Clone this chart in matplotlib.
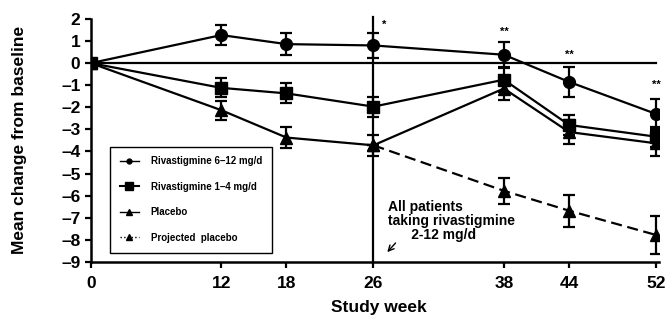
import numpy as np
import matplotlib.pyplot as plt
from matplotlib.lines import Line2D

plt.rcParams['font.family'] = ['Liberation Sans', 'DejaVu Sans']
plt.rcParams['font.weight'] = 'bold'

## DATA
weeks = [0, 12, 18, 26, 38, 44, 52]
riva_hi = [0, 1.27, 0.86, 0.8, 0.38, -0.85, -2.3]
riva_hi_err = [0, 0.45, 0.5, 0.55, 0.57, 0.68, 0.66]
riva_lo = [0, -1.12, -1.37, -1.97, -0.75, -2.8, -3.33]
riva_lo_err = [0, 0.43, 0.45, 0.45, 0.55, 0.45, 0.45]
placebo = [0, -2.13, -3.37, -3.72, -1.15, -3.12, -3.63]
placebo_err = [0, 0.43, 0.48, 0.48, 0.5, 0.55, 0.57]
proj_weeks = [26, 38, 44, 52]
proj_placebo = [-3.72, -5.78, -6.68, -7.78]
proj_err = [0, 0.6, 0.73, 0.85]
star_weeks = [27, 38, 44, 52]
star_y = [1.75, 1.42, 0.38, -0.98]
star_txt = ['*', '**', '**', '**']
##########

fig = plt.figure(figsize=(6.68, 3.21), dpi=100)
ax = fig.add_axes([0.136, 0.184, 0.851, 0.757])

lw = 1.6
eb = dict(color='black', lw=lw, capsize=4, capthick=lw, elinewidth=lw)
ax.errorbar(weeks, riva_hi, yerr=riva_hi_err, marker='o', ms=8.5, **eb)
ax.errorbar(weeks, riva_lo, yerr=riva_lo_err, marker='s', ms=8, **eb)
ax.errorbar(weeks, placebo, yerr=placebo_err, marker='^', ms=9, **eb)
ax.errorbar(proj_weeks, proj_placebo, yerr=proj_err, marker='^', ms=9,
            linestyle=(0, (5, 2.5)), **eb)

ax.plot([0, 52], [0, 0], color='black', lw=lw, zorder=1)
ax.plot([26, 26], [-9, 2.1], color='black', lw=lw, zorder=1, clip_on=False)

for x, y, s in zip(star_weeks, star_y, star_txt):
    ax.text(x, y, s, ha='center', va='center', fontsize=8)

ax.text(27.3, -6.2, 'All patients\ntaking rivastigmine\n      2-12 mg/d',
        ha='left', va='top', fontsize=10, linespacing=1.0)
ax.annotate('', xy=(27.1, -8.65), xytext=(28.2, -8.05),
            arrowprops=dict(arrowstyle='->', color='black', lw=1))

ax.set_xlim(0, 52.3)
ax.set_ylim(-9, 2)
ax.set_xticks(weeks)
ax.set_yticks(range(-9, 3))
ax.set_yticklabels([str(v).replace('-', '\u2013') for v in range(-9, 3)])
ax.tick_params(labelsize=12.5, width=1.6, length=4)
ax.tick_params(axis='x', pad=6)
for s in ['top', 'right']:
    ax.spines[s].set_visible(False)
for s in ['left', 'bottom']:
    ax.spines[s].set_linewidth(1.8)
ax.set_xlabel('Study week', fontsize=12.5, fontweight='bold')
ax.set_ylabel('Mean change from baseline', fontsize=12.5, fontweight='bold')
ax.xaxis.set_label_coords(0.507, -0.155)
ax.yaxis.set_label_coords(-0.112, 0.5)

handles = [
    Line2D([], [], color='black', marker='o', ms=3.5, lw=1),
    Line2D([], [], color='black', marker='s', ms=6, lw=1.5),
    Line2D([], [], color='black', marker='^', ms=4, lw=1),
    Line2D([], [], color='black', marker='^', ms=4, lw=1, ls=':'),
]
labels = ['Rivastigmine 6\u201312 mg/d', 'Rivastigmine 1\u20134 mg/d',
          'Placebo', 'Projected  placebo']
leg = ax.legend(handles, labels, loc='upper left', bbox_to_anchor=(0.025, 0.495),
                fontsize=7, handlelength=2, labelspacing=1.6, borderpad=1.0,
                handletextpad=1.2, fancybox=False, edgecolor='black', framealpha=1)
leg.get_frame().set_linewidth(1)

plt.savefig('out.png', dpi=100)
